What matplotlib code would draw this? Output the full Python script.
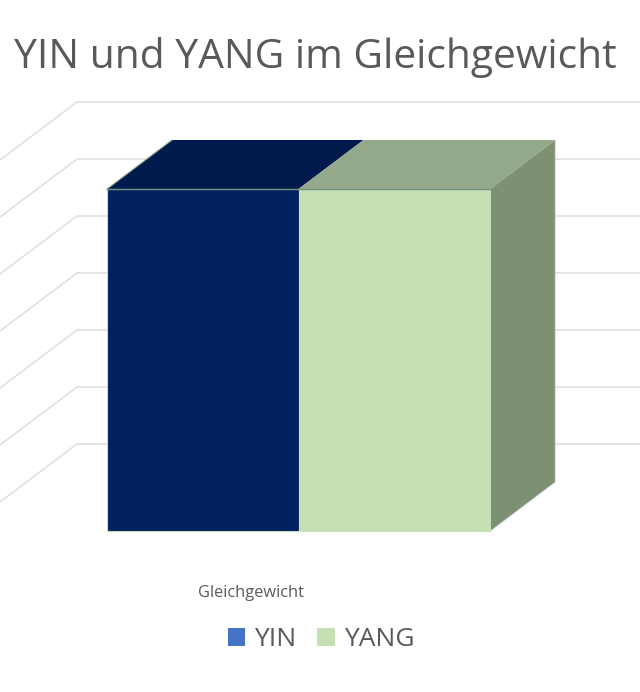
import matplotlib
matplotlib.use('Agg')
import matplotlib.pyplot as plt
from matplotlib.patches import Patch, Polygon

plt.rcParams['font.family'] = ['Open Sans', 'DejaVu Sans']

title = 'YIN und YANG im Gleichgewicht'
category = 'Gleichgewicht'
series_names = ['YIN', 'YANG']
series_values = [6, 6]
grid_values = [1, 2, 3, 4, 5, 6, 7]

front_colors = ['#002060', '#C5E0B4']
top_colors = ['#001A4D', '#94A88A']
legend_colors = ['#4472C4', '#C5E0B4']
side_color = '#7E9073'
grid_color = '#E2E2E2'
text_color = '#595959'

W, H = 640, 692
# one bar is 191.5 px wide, one value step is 57 px high
x_unit, y_unit = 191.5, 57.0
x0_px, y0_px = 107.0, 531.0
# bar depth and back wall position in data units
depth_x, depth_y = 65 / x_unit, 49 / y_unit
wall_x, wall_y = -30 / x_unit, 30 / y_unit
grid_dx, grid_dy = 77 / x_unit, 58 / y_unit

fig = plt.figure(figsize=(W / 100, H / 100), dpi=100)
ax = fig.add_axes([0, 0, 1, 1])
ax.set_xlim(-x0_px / x_unit, (W - x0_px) / x_unit)
ax.set_ylim(-(H - y0_px) / y_unit, y0_px / y_unit)
ax.axis('off')

# back wall lines with the diagonal on the left side wall
for v in grid_values:
    y = v + wall_y
    ax.plot([wall_x - grid_dx, wall_x, (W - x0_px) / x_unit], [y - grid_dy, y, y],
            color=grid_color, lw=1.3, zorder=1, solid_joinstyle='miter')

# 3d sides, right one only for the last series
n = len(series_values)
h = series_values[-1]
ax.add_patch(Polygon([(n, 0), (n + depth_x, depth_y), (n + depth_x, h + depth_y), (n, h)],
                     closed=True, fc=side_color, ec='#A9B5A1', lw=0.5, zorder=2))
for i, v in enumerate(series_values):
    ax.add_patch(Polygon([(i, v), (i + depth_x, v + depth_y), (i + 1 + depth_x, v + depth_y), (i + 1, v)],
                         closed=True, fc=top_colors[i], ec='none', zorder=2))
ax.plot([0, depth_x], [series_values[0], series_values[0] + depth_y],
        color='#8FB08A', lw=0.8, zorder=3)
ax.plot([0, n], [series_values[0], series_values[-1]], color='#6F8F7A', lw=1.0, zorder=4)

ax.bar(range(n), series_values, width=1.0, align='edge', color=front_colors,
       edgecolor='#C5E0B4', linewidth=0.8, zorder=3)

ax.text(0.5 * n - 48 / x_unit, -62 / y_unit, category, fontsize=11.8, color=text_color,
        ha='center', va='center')
fig.text(315 / W, 1 - 57 / H, title, fontsize=29.3, color=text_color, ha='center', va='center')

handles = [Patch(fc=c, ec='none', label=s) for c, s in zip(legend_colors, series_names)]
fig.legend(handles=handles, loc='center', bbox_to_anchor=(321 / W, 1 - 640 / H), ncol=2,
           frameon=False, fontsize=19, labelcolor=text_color, handlelength=0.66, handleheight=0.66,
           handletextpad=0.35, columnspacing=0.78)

fig.savefig('out.png', dpi=100)
